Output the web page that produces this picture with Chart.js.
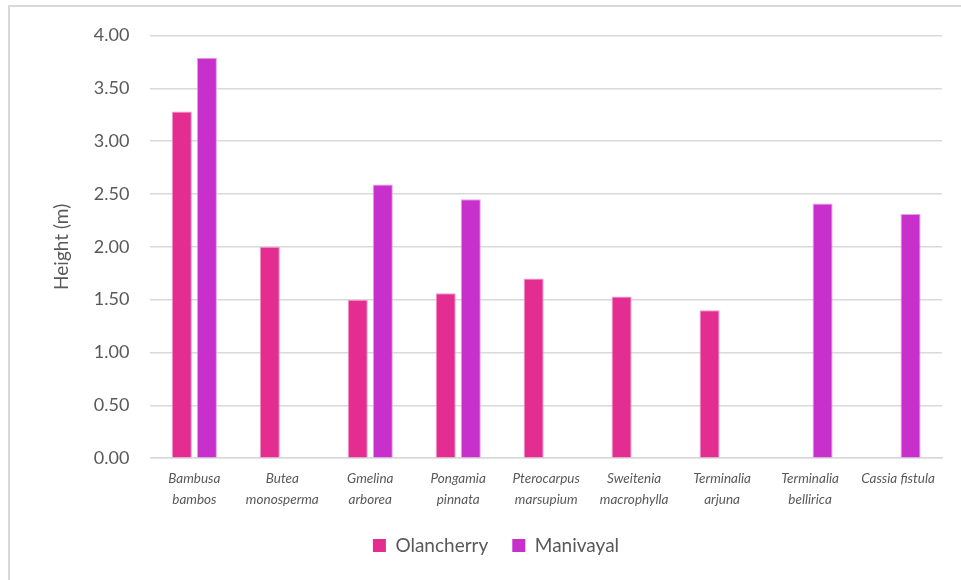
<!DOCTYPE html>
<html>
<head>
<meta charset="utf-8">
<script src="https://cdn.jsdelivr.net/npm/chart.js@4.4.1/dist/chart.umd.min.js"></script>
<style>
  html, body { margin: 0; padding: 0; background: #fff; }
  #frame {
    position: absolute; left: 0; top: 0; width: 961px; height: 580px; overflow: hidden;
  }
  #frame::before {
    content: ''; position: absolute; left: 8px; top: 5px; width: 1000px; height: 1000px;
    border-top: 2px solid #d9d9d9; border-left: 2px solid #d9d9d9;
  }
  canvas { position: absolute; left: 0; top: 0; }
</style>
</head>
<body>
<div id="frame">
  <canvas id="grafico" width="961" height="580"></canvas>
</div>
<script>
// Dados do gráfico
const especies = [
  ['Bambusa', 'bambos'],
  ['Butea', 'monosperma'],
  ['Gmelina', 'arborea'],
  ['Pongamia', 'pinnata'],
  ['Pterocarpus', 'marsupium'],
  ['Sweitenia', 'macrophylla'],
  ['Terminalia', 'arjuna'],
  ['Terminalia', 'bellirica'],
  'Cassia fistula'
];
const olancherry = [3.28, 2.00, 1.50, 1.56, 1.70, 1.53, 1.40, null, null];
const manivayal = [3.79, null, 2.59, 2.45, null, null, null, 2.41, 2.31];
const ticksY = [0, 0.5, 1, 1.5, 2, 2.5, 3, 3.5, 4];

const corTexto = '#595959';
const fonte = 'Lato, "Open Sans", sans-serif';

document.addEventListener('DOMContentLoaded', function() {
  const ctx = document.getElementById('grafico').getContext('2d');
  new Chart(ctx, {
    type: 'bar',
    data: {
      labels: especies,
      datasets: [
        {
          label: 'Olancherry',
          data: olancherry,
          backgroundColor: '#e32d91',
          borderColor: '#f39ac8',
          borderWidth: 1,
          categoryPercentage: 0.57,
          barPercentage: 0.8
        },
        {
          label: 'Manivayal',
          data: manivayal,
          backgroundColor: '#c830cc',
          borderColor: '#e4a0e6',
          borderWidth: 1,
          categoryPercentage: 0.57,
          barPercentage: 0.8
        }
      ]
    },
    options: {
      responsive: false,
      animation: false,
      layout: { padding: { left: 50, right: 19, top: 35.5, bottom: 15 } },
      scales: {
        x: {
          grid: { display: false },
          border: { color: '#d9d9d9', width: 1.5 },
          ticks: {
            color: corTexto,
            maxRotation: 0,
            autoSkip: false,
            padding: 2,
            font: { family: fonte, size: 13.5, style: 'italic', lineHeight: 1.55 }
          }
        },
        y: {
          min: 0,
          max: 4,
          afterBuildTicks: function(scale) {
            scale.ticks = ticksY.map(v => ({ value: v }));
          },
          grid: { color: '#d9d9d9', lineWidth: 1.5, drawTicks: false },
          border: { display: false },
          ticks: {
            color: corTexto,
            padding: 21,
            font: { family: fonte, size: 18 },
            callback: function(v) { return Number(v).toFixed(2); }
          },
          title: {
            display: true,
            text: 'Height (m)',
            color: corTexto,
            padding: { top: 0, bottom: 0 },
            font: { family: fonte, size: 19 }
          }
        }
      },
      plugins: {
        tooltip: { enabled: false },
        legend: {
          position: 'bottom',
          labels: {
            color: corTexto,
            boxWidth: 13,
            boxHeight: 13,
            padding: 24,
            font: { family: fonte, size: 19 },
            generateLabels: function(chart) {
              return chart.data.datasets.map((ds, i) => ({
                text: ds.label,
                fillStyle: ds.backgroundColor,
                strokeStyle: ds.backgroundColor,
                lineWidth: 0,
                fontColor: corTexto,
                datasetIndex: i
              }));
            }
          }
        }
      }
    }
  });
});
</script>
</body>
</html>
